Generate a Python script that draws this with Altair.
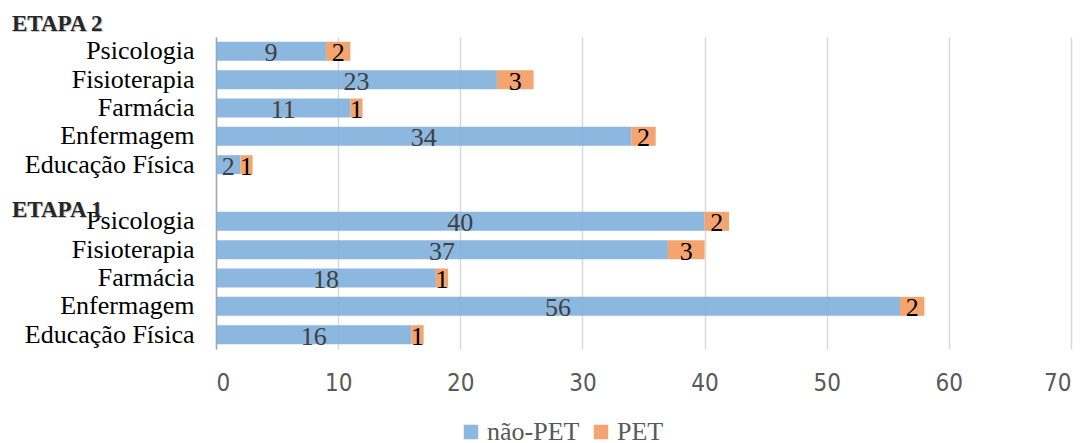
import altair as alt
import pandas as pd

# Courses and counts per stage (não-PET / PET)
cursos = ["Psicologia", "Fisioterapia", "Farmácia", "Enfermagem", "Educação Física"]
etapa2_nao_pet = [9, 23, 11, 34, 2]
etapa2_pet = [2, 3, 1, 2, 1]
etapa1_nao_pet = [40, 37, 18, 56, 16]
etapa1_pet = [2, 3, 1, 2, 1]

series = ["não-PET", "PET"]
cores = ["#7FAFDC", "#F39A5E"]

SERIF = "Times New Roman, Liberation Serif, Tinos, serif"
NARROW = "Liberation Sans Narrow, Arial Narrow, DejaVu Sans Condensed, Liberation Sans, sans-serif"

# Row keys: stage|course, with an empty spacer row between the two stages
linhas = [f"E2|{c}" for c in cursos] + ["espaco"] + [f"E1|{c}" for c in cursos]

registros = []
for etapa, nao, pet in (("E2", etapa2_nao_pet, etapa2_pet), ("E1", etapa1_nao_pet, etapa1_pet)):
    for c, v_nao, v_pet in zip(cursos, nao, pet):
        registros.append({"linha": f"{etapa}|{c}", "serie": "não-PET", "ordem": 0, "valor": v_nao})
        registros.append({"linha": f"{etapa}|{c}", "serie": "PET", "ordem": 1, "valor": v_pet})
df = pd.DataFrame(registros)

y_enc = alt.Y(
    "linha:N",
    sort=linhas,
    scale=alt.Scale(domain=linhas, paddingInner=0.33, paddingOuter=0.17),
    axis=alt.Axis(
        title=None,
        labelExpr="indexof(datum.label, '|') >= 0 ? split(datum.label, '|')[1] : ''",
        labelFont=SERIF,
        labelFontSize=26,
        labelColor="#000000",
        labelPadding=22,
        ticks=False,
        domain=True,
        domainColor="#a6a6a6",
        domainWidth=1.5,
        grid=False,
    ),
)

x_scale = alt.Scale(domain=[0, 70], nice=False)

base = alt.Chart(df).transform_stack(
    stack="valor", groupby=["linha"], as_=["ini", "fim"], sort=[alt.SortField("ordem")]
).transform_calculate(meio="(datum.ini + datum.fim) / 2")

barras = base.mark_bar(fillOpacity=0.9).encode(
    x=alt.X(
        "ini:Q",
        scale=x_scale,
        axis=alt.Axis(
            title=None,
            values=[0, 10, 20, 30, 40, 50, 60, 70],
            labelFont=NARROW,
            labelFontSize=24,
            labelColor="#595959",
            labelPadding=22,
            ticks=False,
            domain=False,
            grid=True,
            gridColor="#d9d9d9",
            gridWidth=1.5,
        ),
    ),
    x2="fim:Q",
    y=y_enc,
    color=alt.Color(
        "serie:N",
        scale=alt.Scale(domain=series, range=cores),
        legend=alt.Legend(
            title=None,
            orient="none",
            legendX=242,
            legendY=382,
            direction="horizontal",
            symbolType="square",
            symbolSize=210,
            symbolStrokeWidth=0,
            symbolOpacity=0.9,
            labelFont=SERIF,
            labelFontSize=26,
            labelColor="#595959",
            labelOffset=3,
            columnPadding=8,
        ),
    ),
)

rotulos = base.mark_text(font=SERIF, fontSize=26, baseline="middle", dy=2).encode(
    x=alt.X("meio:Q", scale=x_scale),
    y=y_enc,
    text="valor:Q",
    color=alt.condition(alt.datum.serie == "PET", alt.value("#000000"), alt.value("#404040")),
)

etapas = pd.DataFrame({"linha": ["E2|Psicologia", "E1|Psicologia"], "txt": ["ETAPA 2", "ETAPA 1"]})

def titulo_etapa(linha, dy):
    d = etapas[etapas["linha"] == linha]
    sombra = alt.Chart(d).mark_text(
        font=SERIF, fontSize=23, fontWeight="bold", align="left",
        baseline="middle", dy=dy + 1, dx=1, color="#808080", opacity=0.45,
    ).encode(x=alt.value(-204), y=y_enc, text="txt:N")
    texto = alt.Chart(d).mark_text(
        font=SERIF, fontSize=23, fontWeight="bold", align="left",
        baseline="middle", dy=dy, color="#262626",
    ).encode(x=alt.value(-204), y=y_enc, text="txt:N")
    return sombra + texto

chart = alt.layer(
    barras,
    rotulos,
    titulo_etapa("E2|Psicologia", -27),
    titulo_etapa("E1|Psicologia", -11),
).properties(
    width=855,
    height=312,
    autosize=alt.AutoSizeParams(type="none"),
    padding={"left": 216, "top": 37, "right": 17, "bottom": 94},
).configure_view(stroke=None)

chart.save("out.html", embed_options={"renderer": "svg", "actions": False})
